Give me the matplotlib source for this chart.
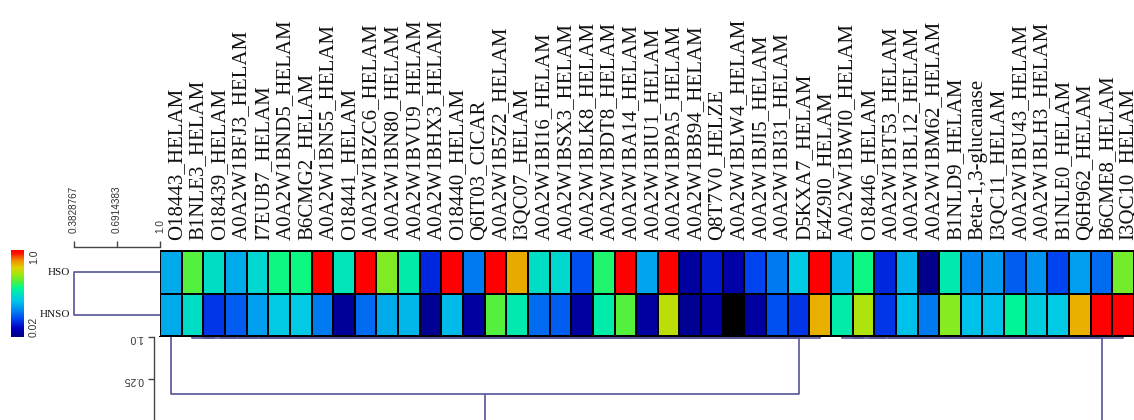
import numpy as np
import matplotlib
matplotlib.use("Agg")
import matplotlib.pyplot as plt
from matplotlib.colors import LinearSegmentedColormap, Normalize
from matplotlib.cm import ScalarMappable
from matplotlib.collections import LineCollection
from matplotlib.transforms import ScaledTranslation

# ---------------------------------------------------------------- data
proteins = [
    "O18443_HELAM", "B1NLE3_HELAM", "O18439_HELAM", "A0A2W1BFJ3_HELAM",
    "I7EUB7_HELAM", "A0A2W1BND5_HELAM", "B6CMG2_HELAM", "A0A2W1BN55_HELAM",
    "O18441_HELAM", "A0A2W1BZC6_HELAM", "A0A2W1BN80_HELAM", "A0A2W1BVU9_HELAM",
    "A0A2W1BHX3_HELAM", "O18440_HELAM", "Q6IT03_CICAR", "A0A2W1B5Z2_HELAM",
    "I3QC07_HELAM", "A0A2W1BI16_HELAM", "A0A2W1BSX3_HELAM", "A0A2W1BLK8_HELAM",
    "A0A2W1BDT8_HELAM", "A0A2W1BA14_HELAM", "A0A2W1BIU1_HELAM", "A0A2W1BPA5_HELAM",
    "A0A2W1BB94_HELAM", "Q8T7V0_HELZE", "A0A2W1BLW4_HELAM", "A0A2W1BJI5_HELAM",
    "A0A2W1BI31_HELAM", "D5KXA7_HELAM", "E4Z9I0_HELAM", "A0A2W1BWI0_HELAM",
    "O18446_HELAM", "A0A2W1BT53_HELAM", "A0A2W1BL12_HELAM", "A0A2W1BM62_HELAM",
    "B1NLD9_HELAM", "Beta-1,3-glucanase", "I3QC11_HELAM", "A0A2W1BU43_HELAM",
    "A0A2W1BLH3_HELAM", "B1NLE0_HELAM", "Q6H962_HELAM", "B6CME8_HELAM",
    "I3QC10_HELAM",
]
groups = ["HSO", "HNSO"]

hso = [0.38, 0.65, 0.50, 0.38, 0.48, 0.58, 0.58, 1.00, 0.52, 1.00,
       0.69, 0.54, 0.18, 1.00, 0.30, 1.00, 0.85, 0.50, 0.48, 0.24,
       0.60, 1.00, 0.37, 1.00, 0.07, 0.16, 0.08, 0.22, 0.30, 0.44,
       1.00, 0.40, 0.58, 0.18, 0.40, 0.04, 0.53, 0.32, 0.35, 0.26,
       0.34, 0.22, 0.36, 0.28, 0.68]
hnso = [0.38, 0.50, 0.20, 0.26, 0.36, 0.44, 0.44, 0.30, 0.06, 0.28,
        0.38, 0.40, 0.05, 0.41, 0.07, 0.65, 0.53, 0.28, 0.26, 0.07,
        0.54, 0.65, 0.07, 0.76, 0.05, 0.08, 0.00, 0.07, 0.24, 0.20,
        0.84, 0.54, 0.74, 0.20, 0.42, 0.30, 0.70, 0.42, 0.42, 0.56,
        0.45, 0.44, 0.84, 1.00, 1.00]

# row clustering: (left, right, similarity)
row_links = [(0, 1, 0.3828767)]
row_ticks = [0.3828767, 0.6914383, 1.0]
row_tick_labels = ["0.3828767", "0.6914383", "1.0"]

# column clustering: (left, right, similarity); ids >= 45 are earlier merges
col_links = [
    (1, 2, 0.975), (45, 3, 0.975), (46, 4, 0.975), (47, 5, 0.975),
    (48, 6, 0.975), (49, 7, 0.975), (50, 8, 0.975), (51, 9, 0.975),
    (52, 10, 0.975), (53, 11, 0.975), (54, 12, 0.975), (55, 13, 0.975),
    (56, 14, 0.975), (57, 15, 0.975), (58, 16, 0.975), (59, 17, 0.975),
    (60, 18, 0.975), (61, 19, 0.975), (62, 20, 0.975), (63, 21, 0.975),
    (64, 22, 0.975), (65, 23, 0.975), (66, 24, 0.975), (67, 25, 0.975),
    (68, 26, 0.975), (69, 27, 0.975), (70, 28, 0.975), (71, 29, 0.975),
    (72, 30, 0.975),
    (31, 32, 0.975), (74, 33, 0.975), (75, 34, 0.975), (76, 35, 0.975),
    (77, 36, 0.975), (78, 37, 0.975), (79, 38, 0.975), (80, 39, 0.975),
    (81, 40, 0.975), (82, 41, 0.975), (83, 42, 0.975), (84, 43, 0.975),
    (85, 44, 0.975),
    (0, 73, -0.02),
    (87, 86, -1.0),
]
col_ticks = [1.0, 0.25, -0.5]
col_tick_labels = ["1.0", "0.25", "-0.5"]

vmin, vmax = 0.02, 1.0

# ---------------------------------------------------------------- style
cmap = LinearSegmentedColormap.from_list("expr", [
    (0.00, "#000080"), (0.10, "#0000C0"), (0.20, "#0040F0"),
    (0.32, "#0090F0"), (0.42, "#00C8E8"), (0.50, "#00E0C0"),
    (0.56, "#00F890"), (0.64, "#50F040"), (0.72, "#A0E810"),
    (0.80, "#E0D000"), (0.88, "#F09000"), (0.96, "#FF1000"),
    (1.00, "#FF0000"),
])
cmap.set_under("black")
norm = Normalize(vmin, vmax)

TREE = "#55559a"
SERIF = "Liberation Serif"
SANS = "Liberation Sans"

W, H = 1134, 420
fig = plt.figure(figsize=(W / 100, H / 100), dpi=100)


def box(x0, y0, x1, y1):
    """Pixel rectangle (top-left origin) to figure fraction."""
    return [x0 / W, 1 - y1 / H, (x1 - x0) / W, (y1 - y0) / H]


def px(dx, dy):
    return ScaledTranslation(dx / 100, dy / 100, fig.dpi_scale_trans)


def tree_segments(links, n_leaves, leaf_height):
    pos = {i: i + 0.5 for i in range(n_leaves)}
    hgt = {i: leaf_height for i in range(n_leaves)}
    segs = []
    for k, (a, b, h) in enumerate(links):
        xa, xb = pos[a], pos[b]
        segs.append([(xa, hgt[a]), (xa, h), (xb, h), (xb, hgt[b])])
        pos[n_leaves + k] = (xa + xb) / 2
        hgt[n_leaves + k] = h
    return segs


n = len(proteins)
data = np.array([hso, hnso])

# ---------------------------------------------------------------- heatmap
ax_hm = fig.add_axes(box(160, 251, 1134, 336))
mesh = ax_hm.pcolormesh(np.arange(n + 1), np.arange(3), data, cmap=cmap,
                        norm=norm, edgecolors="black", linewidth=1.3)
mesh.set_clip_on(False)
ax_hm.set_xlim(0, n)
ax_hm.set_ylim(2, 0)
ax_hm.axis("off")
for i, name in enumerate(proteins):
    ax_hm.text(i + 0.5, 0, name, rotation=90, ha="center", va="bottom",
               fontsize=15, family=SERIF, color="#111111",
               transform=ax_hm.transData + px(6, 11))

# ---------------------------------------------------------------- row tree
ax_rd = fig.add_axes(box(74, 251, 160, 336))
ax_rd.set_xlim(row_ticks[0], 1.0)
ax_rd.set_ylim(2, 0)
row_segs = [[(y, x) for (x, y) in s] for s in tree_segments(row_links, 2, 1.0)]
lc = LineCollection(row_segs, colors=TREE, linewidths=1.2)
lc.set_clip_on(False)
ax_rd.add_collection(lc)
for sp in ("left", "right", "bottom"):
    ax_rd.spines[sp].set_visible(False)
ax_rd.spines["top"].set_position(("outward", 3))
ax_rd.spines["top"].set_color("#444444")
ax_rd.spines["top"].set_linewidth(1.0)
ax_rd.xaxis.tick_top()
ax_rd.set_xticks(row_ticks)
ax_rd.set_xticklabels(row_tick_labels, rotation=90, fontsize=7.2,
                      family=SANS, color="#333333")
ax_rd.tick_params(axis="x", length=4, width=1.0, color="#444444", pad=6)
ax_rd.set_yticks([])
for j, g in enumerate(groups):
    ax_rd.text(row_ticks[0], j + 0.5, g, ha="right", va="center",
               fontsize=8, family=SERIF, color="#111111",
               transform=ax_rd.transData + px(-4, 0))

# ---------------------------------------------------------------- column tree
ax_cd = fig.add_axes(box(160, 337, 1134, 450))
ax_cd.set_xlim(0, n)
ax_cd.set_ylim(-1.018, 1.0)
lc = LineCollection(tree_segments(col_links, n, 1.0), colors=TREE,
                    linewidths=1.2)
ax_cd.add_collection(lc)
for sp in ("top", "right", "bottom"):
    ax_cd.spines[sp].set_visible(False)
ax_cd.spines["left"].set_position(("outward", 4))
ax_cd.spines["left"].set_color("#444444")
ax_cd.spines["left"].set_linewidth(1.0)
ax_cd.set_xticks([])
ax_cd.set_yticks(col_ticks)
ax_cd.set_yticklabels(col_tick_labels, rotation=180, fontsize=7.5,
                      family=SANS, color="#333333")
ax_cd.tick_params(axis="y", length=4, width=1.0, color="#444444", pad=4)

# ---------------------------------------------------------------- colour bar
cax = fig.add_axes(box(11, 250, 24, 337))
cb = fig.colorbar(ScalarMappable(norm=norm, cmap=cmap), cax=cax)
cb.set_ticks([])
cb.outline.set_visible(False)
cax.text(1.0, 1.0, f"{vmax:.1f}", rotation=90, ha="left", va="top",
         fontsize=7.5, family=SANS, color="#333333",
         transform=cax.transAxes + px(5, 0))
cax.text(1.0, 0.0, f"{vmin:.2f}", rotation=90, ha="left", va="bottom",
         fontsize=7.5, family=SANS, color="#333333",
         transform=cax.transAxes + px(5, 0))

fig.savefig("out.png", dpi=100, facecolor="white")
